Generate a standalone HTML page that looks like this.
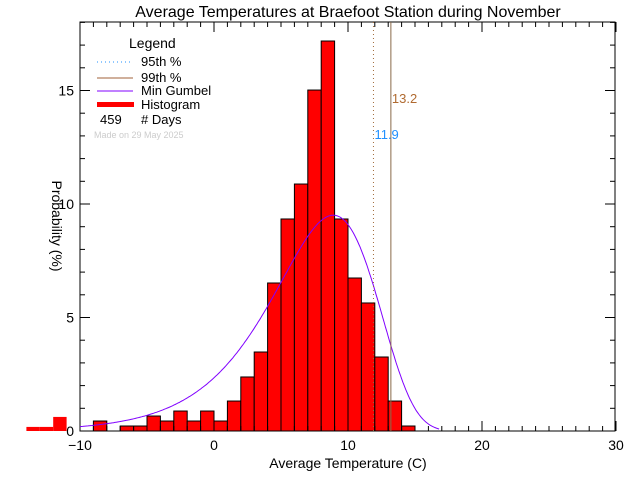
<!DOCTYPE html>
<html><head><meta charset="utf-8"><style>
body{margin:0;background:#fff;}
svg text{font-family:"Liberation Sans",sans-serif;}
</style></head><body>
<svg id="chart" width="640" height="480" xmlns="http://www.w3.org/2000/svg">
<g id="bars"></g>
<g id="ticks"></g>
<rect x="80" y="22" width="535" height="409" fill="none" stroke="#000" stroke-width="1"/>
<polyline id="gumbel" fill="none" stroke="#8000ff" stroke-width="1"/>
<line id="p95" stroke="#a06a3a" stroke-dasharray="1,3" stroke-width="1"/>
<line id="p99" stroke="#8a6a4a" stroke-width="1"/>
<text id="p99lab" font-size="13" fill="#b06a30">13.2</text>
<text id="p95lab" font-size="13" fill="#2090ff">11.9</text>
<text x="348" y="17" text-anchor="middle" font-size="16">Average Temperatures at Braefoot Station during November</text>
<text x="348" y="468" text-anchor="middle" font-size="14">Average Temperature (C)</text>
<text transform="translate(52,226) rotate(90)" text-anchor="middle" font-size="14">Probability  (%)</text>
<g font-size="13">
<text x="129" y="48" font-size="14">Legend</text>
<line x1="97" y1="62" x2="133" y2="62" stroke="#2090ff" stroke-dasharray="1,3"/>
<text x="141" y="66">95th %</text>
<line x1="97" y1="78" x2="133" y2="78" stroke="#a0603a"/>
<text x="141" y="82">99th %</text>
<line x1="97" y1="91" x2="133" y2="91" stroke="#8000ff"/>
<text x="141" y="95">Min Gumbel</text>
<rect x="97" y="102" width="37" height="5" fill="#f00"/>
<text x="141" y="109">Histogram</text>
<text x="100" y="124">459</text>
<text x="141" y="124"># Days</text>
<text x="94" y="138" font-size="9" fill="#ccc">Made on 29 May 2025</text>
</g>
</svg>
<script>
const binStarts=[-14,-13,-12,-11,-10,-9,-8,-7,-6,-5,-4,-3,-2,-1,0,1,2,3,4,5,6,7,8,9,10,11,12,13,14];
const binValues=[0.18,0.18,0.62,0,0,0.44,0,0.22,0.22,0.66,0.44,0.88,0.44,0.88,0.44,1.32,2.38,3.48,6.52,9.34,10.88,15.02,17.18,9.34,6.74,5.64,3.26,1.32,0.22];
const xTicks=[-10,0,10,20,30];
const yTicks=[0,5,10,15];
const gumbelMu=8.9, gumbelBeta=3.87;
const p95=11.9, p99=13.2;
const X=v=>214+v*13.4, Y=v=>431-v*22.7;
const NS="http://www.w3.org/2000/svg";
const bars=document.getElementById('bars'), ticks=document.getElementById('ticks');
binStarts.forEach((b,i)=>{if(binValues[i]<=0)return;
 const r=document.createElementNS(NS,'rect');
 
 
 r.setAttribute('x',X(b));r.setAttribute('width',13.4);
 r.setAttribute('y',Y(binValues[i]));r.setAttribute('height',431-Y(binValues[i]));
 r.setAttribute('fill','#f00');
 if(b>=-10){r.setAttribute('stroke','#000');r.setAttribute('stroke-width','1');}
 bars.appendChild(r);});
function ln(x1,y1,x2,y2,g){const l=document.createElementNS(NS,'line');l.setAttribute('x1',x1);l.setAttribute('y1',y1);l.setAttribute('x2',x2);l.setAttribute('y2',y2);l.setAttribute('stroke','#000');g.appendChild(l);return l;}
for(let v=-10;v<=30;v++){const big=v%10===0;const t=ln(X(v),431,X(v),431-(big?10:5),ticks);ln(X(v),22,X(v),22+(big?10:5),ticks);}
for(let v=0;v<=18;v++){const big=v%5===0;const t=ln(80,Y(v),80+(big?10:5),Y(v),ticks);ln(615,Y(v),615-(big?10:5),Y(v),ticks);}
xTicks.forEach(v=>{const t=document.createElementNS(NS,'text');
 
 
 t.setAttribute('x',X(v));t.setAttribute('y',450);t.setAttribute('text-anchor','middle');t.setAttribute('font-size','14');t.textContent=v<0?'\u2212'+(-v):v;ticks.appendChild(t);});
yTicks.forEach(v=>{const t=document.createElementNS(NS,'text');
 
 
 t.setAttribute('x',74);t.setAttribute('y',Y(v)+5);t.setAttribute('text-anchor','end');t.setAttribute('font-size','14');t.textContent=v;ticks.appendChild(t);});
let pts=[];for(let x=-10;x<=16.8;x+=0.1){const z=(x-gumbelMu)/gumbelBeta;const f=100/gumbelBeta*Math.exp(z-Math.exp(z));pts.push(X(x).toFixed(1)+','+Y(f).toFixed(1));}
document.getElementById('gumbel').setAttribute('points',pts.join(' '));
const l95=document.getElementById('p95');l95.setAttribute('x1',X(p95));l95.setAttribute('x2',X(p95));l95.setAttribute('y1',22);l95.setAttribute('y2',431);
const l99=document.getElementById('p99');l99.setAttribute('x1',X(p99));l99.setAttribute('x2',X(p99));l99.setAttribute('y1',22);l99.setAttribute('y2',431);
const a=document.getElementById('p99lab');a.setAttribute('x',X(p99)+1);a.setAttribute('y',103);a.textContent=p99;
const b=document.getElementById('p95lab');b.setAttribute('x',X(p95)+1);b.setAttribute('y',139);b.textContent=p95;
</script>
</body></html>
